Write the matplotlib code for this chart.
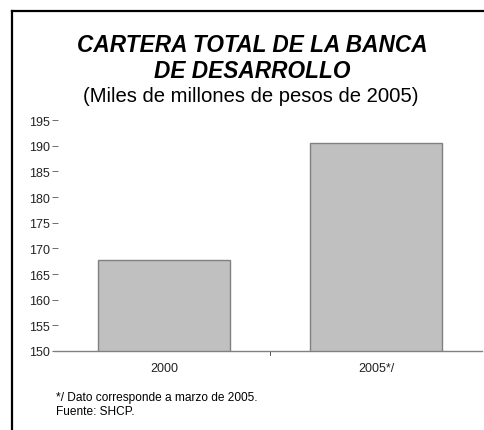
import matplotlib
matplotlib.use("Agg")
import matplotlib.pyplot as plt
from matplotlib.lines import Line2D

categories = ["2000", "2005*/"]
values = [167.7, 190.6]
yticks = [150, 155, 160, 165, 170, 175, 180, 185, 190, 195]

plt.rcParams['font.family'] = ['Liberation Sans', 'DejaVu Sans']

W, H = 484, 431
fig = plt.figure(figsize=(W/100, H/100), dpi=100)
fig.patch.set_facecolor("white")

ax = fig.add_axes([58/W, 1 - 352/H, (482-58)/W, (352-118)/H])
ax.bar(range(len(categories)), values, width=0.625, bottom=0,
       color="#c0c0c0", edgecolor="#808080", linewidth=1.0, zorder=2)
ax.set_xlim(-0.5, 1.5)
ax.set_ylim(150, 195.6)
ax.set_yticks(yticks)
ax.set_yticklabels([str(v) for v in yticks], fontsize=9, color="#222222")
ax.set_xticks(range(len(categories)))
ax.set_xticklabels(categories, fontsize=9, color="#222222")
ax.tick_params(axis='x', length=0, pad=8)
ax.tick_params(axis='y', length=4, width=0.6, color="#555555", pad=2, direction='out')
for s in ["top", "right", "left"]:
    ax.spines[s].set_visible(False)
ax.spines["bottom"].set_color("#808080")
ax.spines["bottom"].set_linewidth(1.0)
ax.spines["bottom"].set_bounds(-0.52, 1.5)
# separator tick between categories
ax.plot([0.5, 0.5], [150, 149.2], color="#555555", lw=0.7, clip_on=False)

# frame lines
fig.add_artist(Line2D([11.5/W, 11.5/W], [0, 1 - 11.5/H], color="black", lw=1.6,
                      transform=fig.transFigure))
fig.add_artist(Line2D([11.5/W, 1], [1 - 11.5/H, 1 - 11.5/H], color="black", lw=1.6,
                      transform=fig.transFigure))

fig.text(252/W, 1 - 45/H, "CARTERA TOTAL DE LA BANCA", ha="center", va="center",
         fontsize=16.3, fontweight="bold", fontstyle="italic")
fig.text(252/W, 1 - 71/H, "DE DESARROLLO", ha="center", va="center",
         fontsize=16.3, fontweight="bold", fontstyle="italic")
fig.text(251/W, 1 - 96/H, "(Miles de millones de pesos de 2005)", ha="center", va="center",
         fontsize=14.6)

fig.text(56/W, 1 - 398/H, "*/ Dato corresponde a marzo de 2005.", ha="left", va="center",
         fontsize=8.6)
fig.text(56/W, 1 - 412/H, "Fuente: SHCP.", ha="left", va="center", fontsize=8.6)

fig.savefig("out.png", dpi=100)
